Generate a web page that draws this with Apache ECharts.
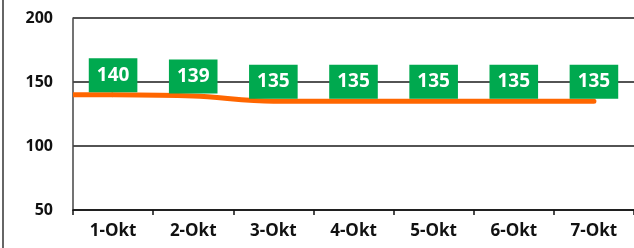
<!DOCTYPE html>
<html>
<head>
<meta charset="utf-8">
<script src="https://cdn.jsdelivr.net/npm/echarts@6/dist/echarts.min.js"></script>
<style>
  html, body { margin: 0; padding: 0; background: #fff; }
  #chart { width: 634px; height: 248px; }
</style>
</head>
<body>
<div id="chart"></div>
<script>
// values
const days = ['1-Okt', '2-Okt', '3-Okt', '4-Okt', '5-Okt', '6-Okt', '7-Okt'];
const values = [140, 139, 135, 135, 135, 135, 135];
const yTicks = [50, 100, 150, 200];

const font = '"Open Sans", "DejaVu Sans", sans-serif';
const chart = echarts.init(document.getElementById('chart'));

const option = {
    animation: false,
    backgroundColor: '#fff',
    grid: { left: 73, top: 18, width: 572, height: 192, containLabel: false },
    xAxis: {
        type: 'category',
        data: days,
        boundaryGap: true,
        axisLine: { lineStyle: { color: '#111', width: 1.5 } },
        axisTick: { show: true, length: 5, lineStyle: { color: '#111', width: 1.5 } },
        axisLabel: { color: '#111', fontFamily: font, fontWeight: 'bold', fontSize: 17, margin: 13 }
    },
    yAxis: {
        type: 'value',
        min: yTicks[0],
        max: yTicks[yTicks.length - 1],
        interval: 50,
        axisLine: { show: true, lineStyle: { color: '#444', width: 1.5 } },
        axisTick: { show: false },
        splitLine: { lineStyle: { color: '#1a1a1a', width: 1.5 } },
        axisLabel: { color: '#111', fontFamily: font, fontWeight: 'bold', fontSize: 16, margin: 20 }
    },
    series: [{
        type: 'line',
        data: values,
        smooth: 0.35,
        symbol: 'circle',
        symbolSize: 1,
        showSymbol: true,
        itemStyle: { color: 'rgba(0,0,0,0)' },
        lineStyle: { color: '#FF6600', width: 5, cap: 'round' },
        label: {
            show: true,
            position: 'top',
            distance: 2,
            color: '#fff',
            fontFamily: font,
            fontWeight: 'bold',
            fontSize: 19,
            lineHeight: 24,
            backgroundColor: '#00A94F',
            padding: [5, 8, 5, 8]
        },
        labelLayout: { hideOverlap: false },
        z: 3
    }]
};
chart.setOption(option);

// extend the first value back to the value axis, and draw the left frame edge
const p0 = chart.convertToPixel({ seriesIndex: 0 }, [0, values[0]]);
chart.setOption({
    graphic: [
        {
            type: 'line',
            shape: { x1: 73, y1: p0[1], x2: p0[0], y2: p0[1] },
            style: { stroke: '#FF6600', lineWidth: 5 },
            z: 1
        },
        {
            type: 'line',
            shape: { x1: 3, y1: 0, x2: 3, y2: 248 },
            style: { stroke: '#666', lineWidth: 2 }
        }
    ]
});
</script>
</body>
</html>
